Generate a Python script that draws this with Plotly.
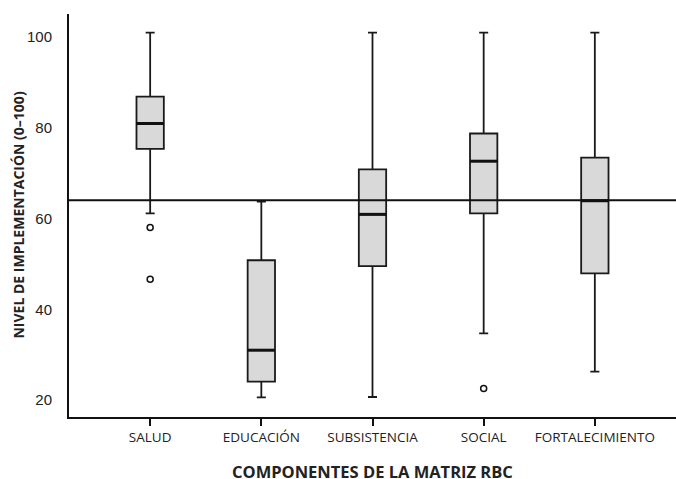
import plotly.graph_objects as go

categories = ["SALUD", "EDUCACIÓN", "SUBSISTENCIA", "SOCIAL", "FORTALECIMIENTO"]
upper = [100.9, 63.7, 100.9, 100.9, 100.9]
q3 = [86.8, 50.8, 70.8, 78.7, 73.4]
median = [80.9, 31.0, 60.9, 72.6, 63.9]
q1 = [75.3, 24.1, 49.5, 61.1, 47.9]
lower = [61.1, 20.6, 20.7, 34.7, 26.3]
outlier_cat = [0, 0, 3]
outlier_val = [58.0, 46.6, 22.6]
reference_value = 64.0
y_ticks = [20, 40, 60, 80, 100]

xpos = list(range(len(categories)))
box_w = 0.246

fig = go.Figure()
fig.add_trace(go.Box(
    x=xpos, q1=q1, median=median, q3=q3, lowerfence=lower, upperfence=upper,
    width=box_w, whiskerwidth=0.33, fillcolor="#d9d9d9",
    line=dict(color="#1a1a1a", width=1.8), boxpoints=False, showlegend=False,
    hoverinfo="skip",
))
mx, my = [], []
for i, m in zip(xpos, median):
    mx += [i - box_w / 2, i + box_w / 2, None]
    my += [m, m, None]
fig.add_trace(go.Scatter(x=mx, y=my, mode="lines", line=dict(color="#111", width=3),
                         showlegend=False, hoverinfo="skip"))
fig.add_trace(go.Scatter(x=outlier_cat, y=outlier_val, mode="markers",
                         marker=dict(symbol="circle-open", size=6, color="#111",
                                     line=dict(width=1.5)),
                         showlegend=False, hoverinfo="skip"))
fig.add_shape(type="line", xref="paper", x0=0, x1=1, yref="y",
              y0=reference_value, y1=reference_value,
              line=dict(color="#111", width=2))

fig.update_layout(
    width=676, height=479,
    margin=dict(l=69, r=0, t=14, b=62),
    paper_bgcolor="white", plot_bgcolor="white",
    font=dict(family="Liberation Sans, Arial, sans-serif", color="#222"),
)
fig.add_annotation(
    text="<b>NIVEL DE IMPLEMENTACIÓN (0–100)</b>", textangle=-90,
    xref="paper", yref="paper", x=-0.084, y=0.5, xanchor="center", yanchor="middle",
    showarrow=False, font=dict(size=14, family="Open Sans, sans-serif", color="#222"),
)
fig.add_annotation(
    text="<b>COMPONENTES DE LA MATRIZ RBC</b>",
    xref="paper", yref="paper", x=0.5, y=-0.136, xanchor="center", yanchor="middle",
    showarrow=False, font=dict(size=16.5, family="Open Sans, sans-serif", color="#222"),
)
fig.update_xaxes(
    range=[-0.73, 4.73], tickmode="array", tickvals=xpos, ticktext=categories,
    showgrid=False, zeroline=False, showline=True, linecolor="#111", linewidth=2,
    ticks="outside", ticklen=7, tickwidth=1.5, tickcolor="#111", automargin=False,
    tickfont=dict(size=13.5, family="Open Sans, sans-serif", color="#222"),
)
fig.update_yaxes(
    range=[16.3, 105], tickmode="array", tickvals=y_ticks, automargin=False,
    showgrid=False, zeroline=False, showline=True, linecolor="#111", linewidth=2,
    ticks="", ticklabelstandoff=12,
    tickfont=dict(size=15, color="#222"),
)
fig.write_html("out.html", config={"displayModeBar": False},
               post_script="document.body.style.margin='0';")
